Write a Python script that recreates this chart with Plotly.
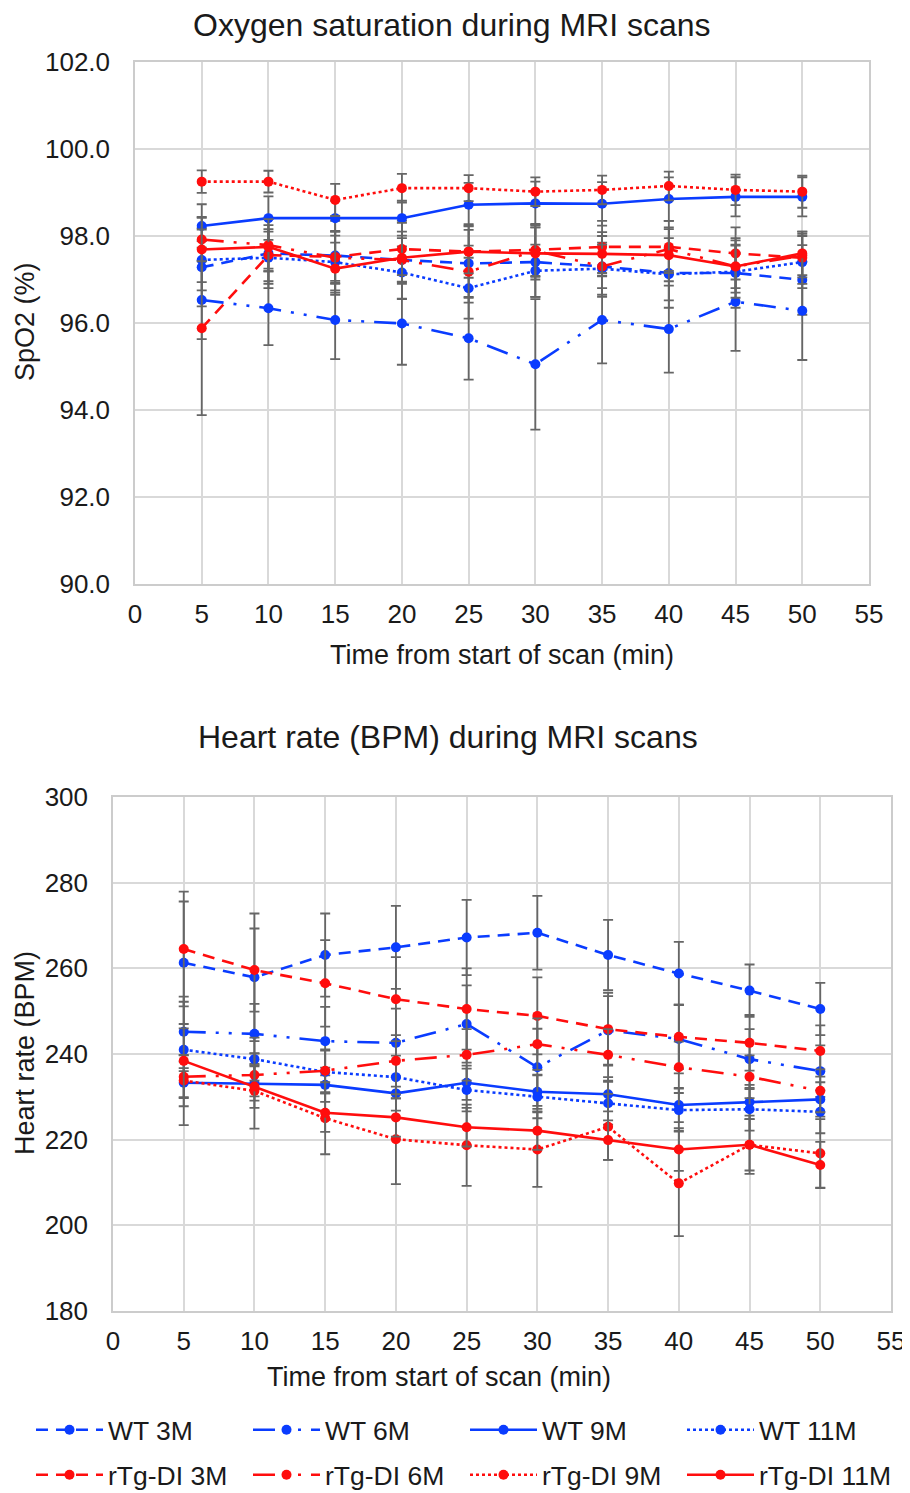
import plotly.graph_objects as go

# ---------------- data ----------------
time_min = [5, 10, 15, 20, 25, 30, 35, 40, 45, 50]
x_ticks = [0, 5, 10, 15, 20, 25, 30, 35, 40, 45, 50, 55]

series_names = ["WT 3M", "WT 6M", "WT 9M", "WT 11M",
                "rTg-DI 3M", "rTg-DI 6M", "rTg-DI 9M", "rTg-DI 11M"]

# SpO2 (%) means
spo2_wt_3m = [97.28, 97.60, 97.55, 97.45, 97.37, 97.40, 97.30, 97.15, 97.15, 96.99]
spo2_wt_6m = [96.53, 96.34, 96.07, 95.99, 95.65, 95.05, 96.07, 95.86, 96.49, 96.28]
spo2_wt_9m = [98.23, 98.41, 98.41, 98.41, 98.72, 98.75, 98.74, 98.85, 98.90, 98.90]
spo2_wt_11m = [97.45, 97.50, 97.40, 97.16, 96.80, 97.20, 97.25, 97.12, 97.18, 97.40]
spo2_rtg_3m = [95.88, 97.56, 97.52, 97.70, 97.64, 97.68, 97.75, 97.75, 97.60, 97.50]
spo2_rtg_6m = [97.92, 97.79, 97.50, 97.45, 97.18, 97.66, 97.30, 97.70, 97.30, 97.55]
spo2_rtg_9m = [99.25, 99.25, 98.83, 99.10, 99.10, 99.02, 99.06, 99.15, 99.06, 99.02]
spo2_rtg_11m = [97.69, 97.75, 97.25, 97.50, 97.64, 97.60, 97.59, 97.56, 97.30, 97.60]

# SpO2 error bars (+/-)
spo2_err_wt_3m = [0.90, 0.80, 0.80, 0.90, 0.90, 0.80, 0.70, 0.80, 0.80, 0.80]
spo2_err_wt_6m = [0.90, 0.85, 0.90, 0.95, 0.95, 1.50, 1.00, 1.00, 1.13, 1.13]
spo2_err_wt_9m = [0.50, 0.50, 0.40, 0.40, 0.50, 0.50, 0.50, 0.50, 0.45, 0.45]
spo2_err_wt_11m = [0.70, 0.60, 0.70, 0.60, 0.70, 0.60, 0.60, 0.60, 0.60, 0.60]
spo2_err_rtg_3m = [2.00, 0.60, 0.60, 0.60, 0.60, 0.60, 0.60, 0.60, 0.60, 0.60]
spo2_err_rtg_6m = [0.50, 0.60, 0.60, 0.50, 0.60, 0.60, 0.50, 0.50, 0.60, 0.50]
spo2_err_rtg_9m = [0.26, 0.25, 0.37, 0.33, 0.30, 0.33, 0.33, 0.33, 0.35, 0.37]
spo2_err_rtg_11m = [0.75, 0.50, 0.60, 0.60, 0.50, 0.60, 0.50, 0.60, 0.50, 0.50]

# Heart rate (BPM) means
hr_wt_3m = [261.3, 257.9, 263.1, 264.9, 267.2, 268.3, 263.1, 258.8, 254.8, 250.5]
hr_wt_6m = [245.2, 244.7, 243.0, 242.6, 247.0, 236.9, 245.5, 243.5, 238.8, 236.0]
hr_wt_9m = [233.3, 233.1, 232.8, 230.8, 233.3, 231.2, 230.6, 228.1, 228.8, 229.4]
hr_wt_11m = [241.0, 238.8, 235.8, 234.6, 231.6, 230.0, 228.5, 226.9, 227.1, 226.5]
hr_rtg_3m = [264.5, 259.6, 256.5, 252.8, 250.5, 248.9, 245.8, 244.0, 242.6, 240.7]
hr_rtg_6m = [234.7, 235.1, 236.1, 238.4, 239.8, 242.3, 239.8, 236.9, 234.7, 231.4]
hr_rtg_9m = [233.8, 231.4, 225.0, 220.1, 218.7, 217.7, 223.0, 209.8, 218.8, 216.8]
hr_rtg_11m = [238.4, 232.4, 226.3, 225.2, 222.9, 222.1, 219.9, 217.7, 218.8, 214.1]

# Heart rate error bars (+/-)
hr_err_wt_3m = [14.3, 14.9, 9.7, 9.7, 8.8, 8.6, 8.2, 7.4, 6.1, 6.1]
hr_err_wt_6m = [7.0, 7.0, 8.0, 8.0, 9.0, 9.0, 8.0, 8.0, 7.0, 6.0]
hr_err_wt_9m = [3.4, 4.0, 4.0, 4.0, 4.0, 4.0, 4.0, 4.0, 4.0, 4.0]
hr_err_wt_11m = [5.0, 5.0, 5.0, 5.0, 5.0, 5.0, 5.0, 5.0, 5.0, 5.0]
hr_err_rtg_3m = [13.4, 9.7, 10.1, 9.8, 9.5, 9.0, 8.5, 7.5, 6.5, 6.0]
hr_err_rtg_6m = [5.0, 5.0, 5.0, 6.0, 6.0, 6.0, 6.0, 6.0, 5.0, 5.0]
hr_err_rtg_9m = [6.0, 8.8, 8.4, 10.5, 9.5, 8.7, 7.7, 12.3, 6.8, 8.0]
hr_err_rtg_11m = [15.0, 5.0, 4.5, 4.5, 4.5, 4.5, 4.6, 5.0, 6.0, 5.4]

spo2_means = [spo2_wt_3m, spo2_wt_6m, spo2_wt_9m, spo2_wt_11m,
              spo2_rtg_3m, spo2_rtg_6m, spo2_rtg_9m, spo2_rtg_11m]
spo2_errs = [spo2_err_wt_3m, spo2_err_wt_6m, spo2_err_wt_9m, spo2_err_wt_11m,
             spo2_err_rtg_3m, spo2_err_rtg_6m, spo2_err_rtg_9m, spo2_err_rtg_11m]
hr_means = [hr_wt_3m, hr_wt_6m, hr_wt_9m, hr_wt_11m,
            hr_rtg_3m, hr_rtg_6m, hr_rtg_9m, hr_rtg_11m]
hr_errs = [hr_err_wt_3m, hr_err_wt_6m, hr_err_wt_9m, hr_err_wt_11m,
           hr_err_rtg_3m, hr_err_rtg_6m, hr_err_rtg_9m, hr_err_rtg_11m]

# ---------------- styles ----------------
BLUE = "#0a3cff"
RED = "#ff0d0d"
DASH = "12px,8px"
LDDD = "22px,10px,3px,10px,3px,10px"
colors = [BLUE] * 4 + [RED] * 4
dashes = [DASH, LDDD, "solid", "dot", DASH, LDDD, "dot", "solid"]
legend_ids = ["legend"] * 4 + ["legend2"] * 4

PAGE_OFF = 8            # browser body margin
W, H = 910 - PAGE_OFF, 1493 - PAGE_OFF
FONT = "Liberation Sans, Arial, Helvetica, sans-serif"
TXT = "#1a1a1a"
GRID = "#d9d9d9"

fig = go.Figure()

for panel, (means, errs, xa, ya) in enumerate([
        (spo2_means, spo2_errs, "x", "y"),
        (hr_means, hr_errs, "x2", "y2")]):
    for i, name in enumerate(series_names):
        fig.add_trace(go.Scatter(
            x=time_min, y=means[i],
            mode="lines+markers",
            name=name,
            line=dict(color=colors[i], width=2.6, dash=dashes[i]),
            marker=dict(color=colors[i], size=10, symbol="circle"),
            error_y=dict(type="data", array=errs[i], visible=True,
                         color="#666666", thickness=1.8, width=5),
            xaxis=xa, yaxis=ya, legend=legend_ids[i],
            showlegend=(panel == 0)))


def px_x(v):
    return (v - PAGE_OFF) / W


def px_y(v):
    return 1 - (v - PAGE_OFF) / H


axis_common = dict(
    showgrid=True, gridcolor=GRID, gridwidth=1.5,
    showline=True, linecolor="#cccccc", linewidth=1.5, mirror=True,
    zeroline=False, ticks="", automargin=False,
    tickfont=dict(family=FONT, size=26, color=TXT),
)

legend_common = dict(orientation="h", xanchor="left", yanchor="middle",
                     font=dict(family=FONT, size=26.5, color=TXT),
                     itemwidth=67, entrywidth=135, entrywidthmode="pixels",
                     bgcolor="rgba(0,0,0,0)", traceorder="normal")

fig.update_layout(
    width=W, height=H,
    margin=dict(l=0, r=0, t=0, b=0, pad=0, autoexpand=False),
    paper_bgcolor="white", plot_bgcolor="white",
    font=dict(family=FONT, color=TXT),
    xaxis=dict(domain=[px_x(135), px_x(869)], range=[0, 55],
               tickvals=x_ticks, anchor="y", ticklabelstandoff=6, **axis_common),
    yaxis=dict(domain=[px_y(584), px_y(62)], range=[90, 102], dtick=2,
               tickformat=".1f", anchor="x", ticklabelstandoff=18, **axis_common),
    xaxis2=dict(domain=[px_x(113), px_x(891)], range=[0, 55],
                tickvals=x_ticks, anchor="y2", ticklabelstandoff=6, **axis_common),
    yaxis2=dict(domain=[px_y(1311), px_y(797)], range=[180, 300], dtick=20,
                anchor="x2", ticklabelstandoff=18, **axis_common),
    legend=dict(x=px_x(31), y=px_y(1430), **legend_common),
    legend2=dict(x=px_x(31), y=px_y(1475), **legend_common),
    showlegend=True,
)

annotations = [
    dict(text="Oxygen saturation during MRI scans", x=px_x(452), y=px_y(25),
         font=dict(size=32)),
    dict(text="Heart rate (BPM) during MRI scans", x=px_x(448), y=px_y(737),
         font=dict(size=32)),
    dict(text="Time from start of scan (min)", x=px_x(502), y=px_y(655),
         font=dict(size=27)),
    dict(text="Time from start of scan (min)", x=px_x(439), y=px_y(1377),
         font=dict(size=27)),
    dict(text="SpO2 (%)", x=px_x(25), y=px_y(322), textangle=-90,
         font=dict(size=27)),
    dict(text="Heart rate (BPM)", x=px_x(25), y=px_y(1053), textangle=-90,
         font=dict(size=27)),
]
for a in annotations:
    a.update(xref="paper", yref="paper", showarrow=False,
             xanchor="center", yanchor="middle")
    a["font"].update(family=FONT, color=TXT)
fig.update_layout(annotations=annotations)

fig.write_html("out.html")
